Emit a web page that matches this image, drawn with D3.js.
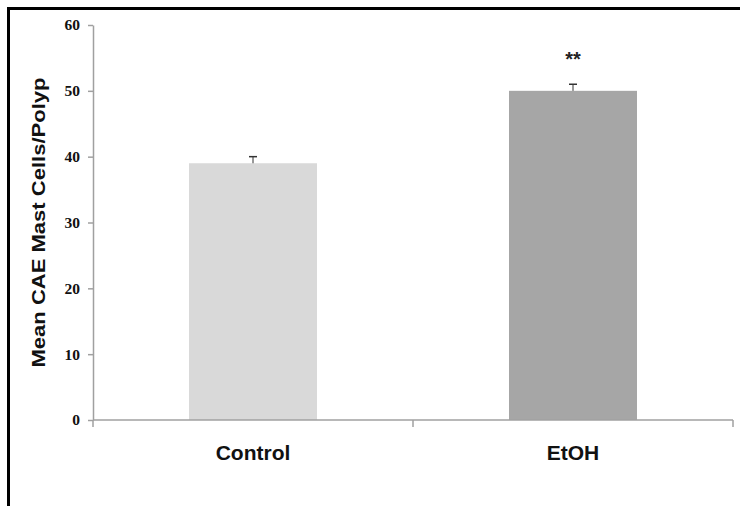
<!DOCTYPE html>
<html>
<head>
<meta charset="utf-8">
<script src="https://cdn.jsdelivr.net/npm/d3@7"></script>
<style>
  body { margin: 0; background: #fff; }
  svg { display: block; }
</style>
</head>
<body>
<div id="chart"></div>
<script>
// chart values
var groups = ["Control", "EtOH"];
var means = [39, 50];
var errors = [1, 1];
var marks = ["", "**"];
var yTicks = [0, 10, 20, 30, 40, 50, 60];
var barColours = ["#d9d9d9", "#a6a6a6"];

var width = 740, height = 506;
//plot area (window.top is taken, so no "top" here)
var plotLeft = 93, plotRight = 733, plotTop = 25, plotBottom = 420;

var svg = d3.select("#chart").append("svg")
    .attr("width", width).attr("height", height);

// black frame, runs off the right and bottom edge like the original
svg.append("rect")
    .attr("x", 8.5).attr("y", 8.5)
    .attr("width", width + 20).attr("height", height + 20)
    .attr("fill", "none").attr("stroke", "#000").attr("stroke-width", 3);

var x = d3.scaleBand().domain(groups).range([plotLeft, plotRight])
    .paddingInner(0.6).paddingOuter(0.3);
var y = d3.scaleLinear().domain([0, 60]).range([plotBottom, plotTop]);

//Bars
svg.selectAll("rect.bar")
    .data(groups)
  .enter().append("rect").attr("class", "bar")
    .attr("x", function (d) { return x(d); })
    .attr("y", function (d, i) { return y(means[i]); })
    .attr("width", x.bandwidth())
    .attr("height", function (d, i) { return y(0) - y(means[i]); })
    .attr("fill", function (d, i) { return barColours[i]; });

//Error bars (upper half only)
var errs = svg.selectAll("g.err").data(groups).enter().append("g").attr("class", "err");
errs.append("line")
    .attr("x1", function (d) { return x(d) + x.bandwidth() / 2; })
    .attr("x2", function (d) { return x(d) + x.bandwidth() / 2; })
    .attr("y1", function (d, i) { return y(means[i]); })
    .attr("y2", function (d, i) { return y(means[i] + errors[i]); })
    .attr("stroke", "#333").attr("stroke-width", 1);
errs.append("line")
    .attr("x1", function (d) { return x(d) + x.bandwidth() / 2 - 4; })
    .attr("x2", function (d) { return x(d) + x.bandwidth() / 2 + 4; })
    .attr("y1", function (d, i) { return y(means[i] + errors[i]); })
    .attr("y2", function (d, i) { return y(means[i] + errors[i]); })
    .attr("stroke", "#333").attr("stroke-width", 1.5);

//Significance marks
svg.selectAll("text.sig").data(groups).enter().append("text").attr("class", "sig")
    .text(function (d, i) { return marks[i]; })
    .attr("x", function (d) { return x(d) + x.bandwidth() / 2; })
    .attr("y", function (d, i) { return y(means[i] + errors[i]) - 18; })
    .attr("text-anchor", "middle")
    .style("font-family", "'Liberation Sans', Arial, sans-serif")
    .style("font-weight", "bold").style("font-size", "20px")
    .attr("fill", "#222");

//Y axis
var yAxis = svg.append("g")
    .attr("transform", "translate(" + plotLeft + ",0)")
    .call(d3.axisLeft(y).tickValues(yTicks).tickSize(5).tickPadding(8).tickSizeOuter(0));
yAxis.select(".domain").attr("stroke", "#a0a0a0").attr("stroke-width", 1.5);
yAxis.selectAll(".tick line").attr("stroke", "#a0a0a0").attr("stroke-width", 1.5);
yAxis.selectAll(".tick text")
    .style("font-family", "'Liberation Serif', 'Times New Roman', serif")
    .style("font-weight", "bold").style("font-size", "15.5px")
    .attr("fill", "#111");

//X axis: ticks sit at the band boundaries
var xEdges = [plotLeft].concat(groups.map(function (d) { return x(d) + x.bandwidth() + x.step() * 0.3; }));
svg.append("line")
    .attr("x1", plotLeft).attr("x2", plotRight)
    .attr("y1", plotBottom).attr("y2", plotBottom)
    .attr("stroke", "#a0a0a0").attr("stroke-width", 1.5);
svg.selectAll("line.xtick").data(xEdges).enter().append("line").attr("class", "xtick")
    .attr("x1", function (d) { return d; }).attr("x2", function (d) { return d; })
    .attr("y1", plotBottom).attr("y2", plotBottom + 7)
    .attr("stroke", "#a0a0a0").attr("stroke-width", 1.5);

svg.selectAll("text.cat").data(groups).enter().append("text").attr("class", "cat")
    .text(function (d) { return d; })
    .attr("x", function (d) { return x(d) + x.bandwidth() / 2; })
    .attr("y", 460)
    .attr("text-anchor", "middle")
    .style("font-family", "'Liberation Sans', Arial, sans-serif")
    .style("font-weight", "bold").style("font-size", "21px")
    .attr("fill", "#111");

//Y title
svg.append("text")
    .text("Mean CAE Mast Cells/Polyp")
    .attr("transform", "translate(45," + ((plotTop + plotBottom) / 2) + ") rotate(-90)")
    .attr("text-anchor", "middle")
    .attr("textLength", 290).attr("lengthAdjust", "spacingAndGlyphs")
    .style("font-family", "'Liberation Sans', Arial, sans-serif")
    .style("font-weight", "bold").style("font-size", "19px")
    .attr("fill", "#111");
</script>
</body>
</html>
